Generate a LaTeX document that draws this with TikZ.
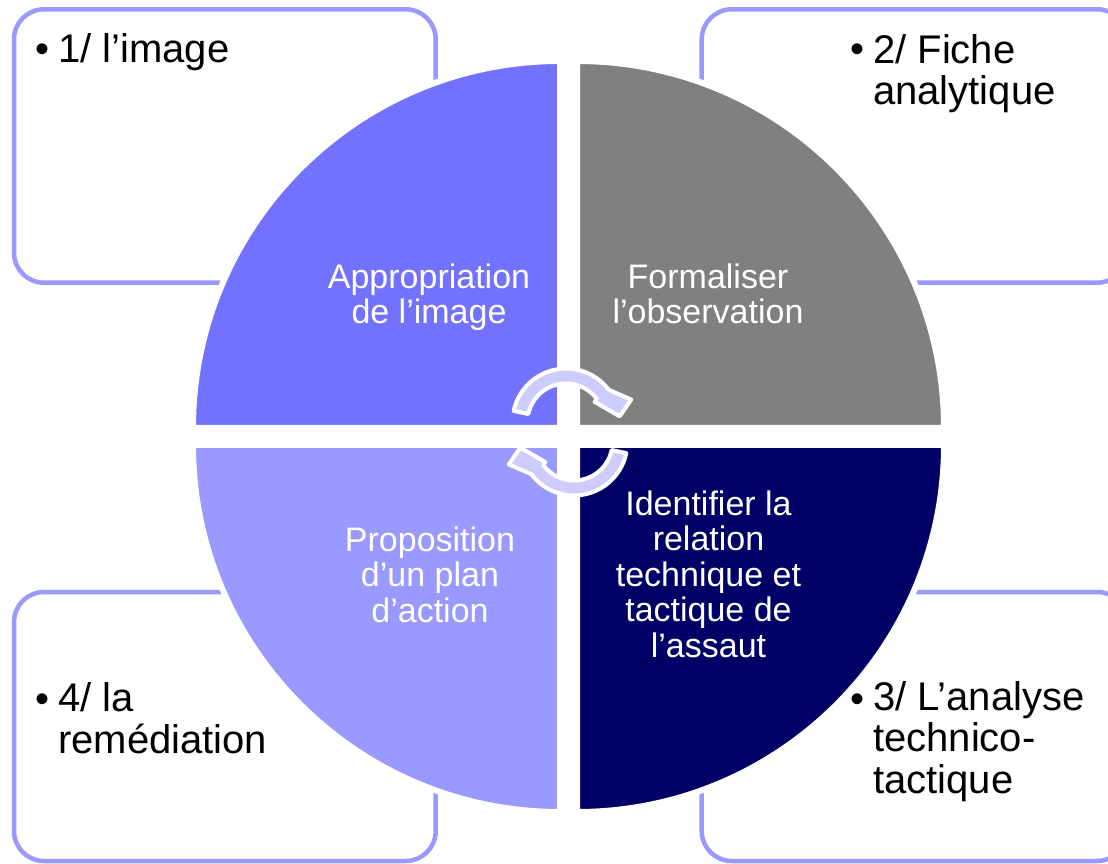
\documentclass[tikz,border=0pt]{standalone}
\usepackage{fontspec}
\setmainfont{Liberation Sans}
\definecolor{qA}{HTML}{7272FF}
\definecolor{qB}{HTML}{808080}
\definecolor{qC}{HTML}{000066}
\definecolor{qD}{HTML}{9999FF}
\definecolor{boxc}{HTML}{9999FF}
\definecolor{arrc}{HTML}{CCCCFF}
\begin{document}
\begin{tikzpicture}[x=1pt,y=1pt,
  frame/.style={draw=boxc, line width=4.5pt, rounded corners=30pt},
  quad/.style={draw=white, line width=6pt},
  boxtext/.style={font=\fontsize{40}{41.5}\selectfont, align=left, inner sep=0pt, anchor=base west},
  bul/.style={font=\fontsize{40}{41.5}\selectfont, inner sep=0pt, anchor=base},
  intext/.style={font=\fontsize{34}{35.5}\selectfont, align=center, inner sep=0pt, anchor=base, text=white},
  cyc/.style={fill=arrc, draw=white, line width=4pt, line join=round}]
\useasboundingbox (0,0) rectangle (1108,863);
% outer boxes
\draw[frame] (14,853.7) rectangle (435.7,580.3);
\draw[frame] (701.7,853.7) rectangle (1127,580.3);
\draw[frame] (14,271) rectangle (435.7,2);
\draw[frame] (701.7,271) rectangle (1127,2);
% quadrants
\path[quad, fill=qA] (560,435) -- (193,435) arc[start angle=180, end angle=90, radius=367] -- cycle;
\path[quad, fill=qB] (577,435) -- (577,802) arc[start angle=90, end angle=0, radius=367] -- cycle;
\path[quad, fill=qC] (577,418) -- (944,418) arc[start angle=0, end angle=-90, radius=367] -- cycle;
\path[quad, fill=qD] (560,418) -- (560,51) arc[start angle=270, end angle=180, radius=367] -- cycle;
% cycle arrows
\begin{scope}[shift={(566,441)}]
\path[cyc] (37:53.5) arc[start angle=37, end angle=168, radius=53.5] -- (168:38.5) arc[start angle=168, end angle=37, radius=38.5] -- (35:35) -- (6:54) -- (19:69) -- cycle;
\end{scope}
\begin{scope}[shift={(574,421)}, rotate=180]
\path[cyc] (37:53.5) arc[start angle=37, end angle=168, radius=53.5] -- (168:38.5) arc[start angle=168, end angle=37, radius=38.5] -- (35:35) -- (6:54) -- (19:69) -- cycle;
\end{scope}
% box texts (anchor = baseline of last line)
\node[bul] (b1) at (42.5,800) {•};
\node[boxtext] (t1) at (58,800) {1/ l’image};
\node[bul] (b2) at (857.5,800) {•};
\node[boxtext] (t2) at (873,758) {2/ Fiche\\analytique};
\node[bul] (b3) at (857.5,151) {•};
\node[boxtext] (t3) at (873,70) {3/ L’analyse\\technico-\\tactique};
\node[bul] (b4) at (42.5,151) {•};
\node[boxtext] (t4) at (58,110) {4/ la\\remédiation};
% quadrant texts
\node[intext] (q1) at (429,539) {Appropriation\\de l’image};
\node[intext] (q2) at (708,539) {Formaliser\\l’observation};
\node[intext] (q3) at (708.5,206) {Identifier la\\relation\\technique et\\tactique de\\l’assaut};
\node[intext] (q4) at (430,241) {Proposition\\d’un plan\\d’action};
\end{tikzpicture}
\end{document}
